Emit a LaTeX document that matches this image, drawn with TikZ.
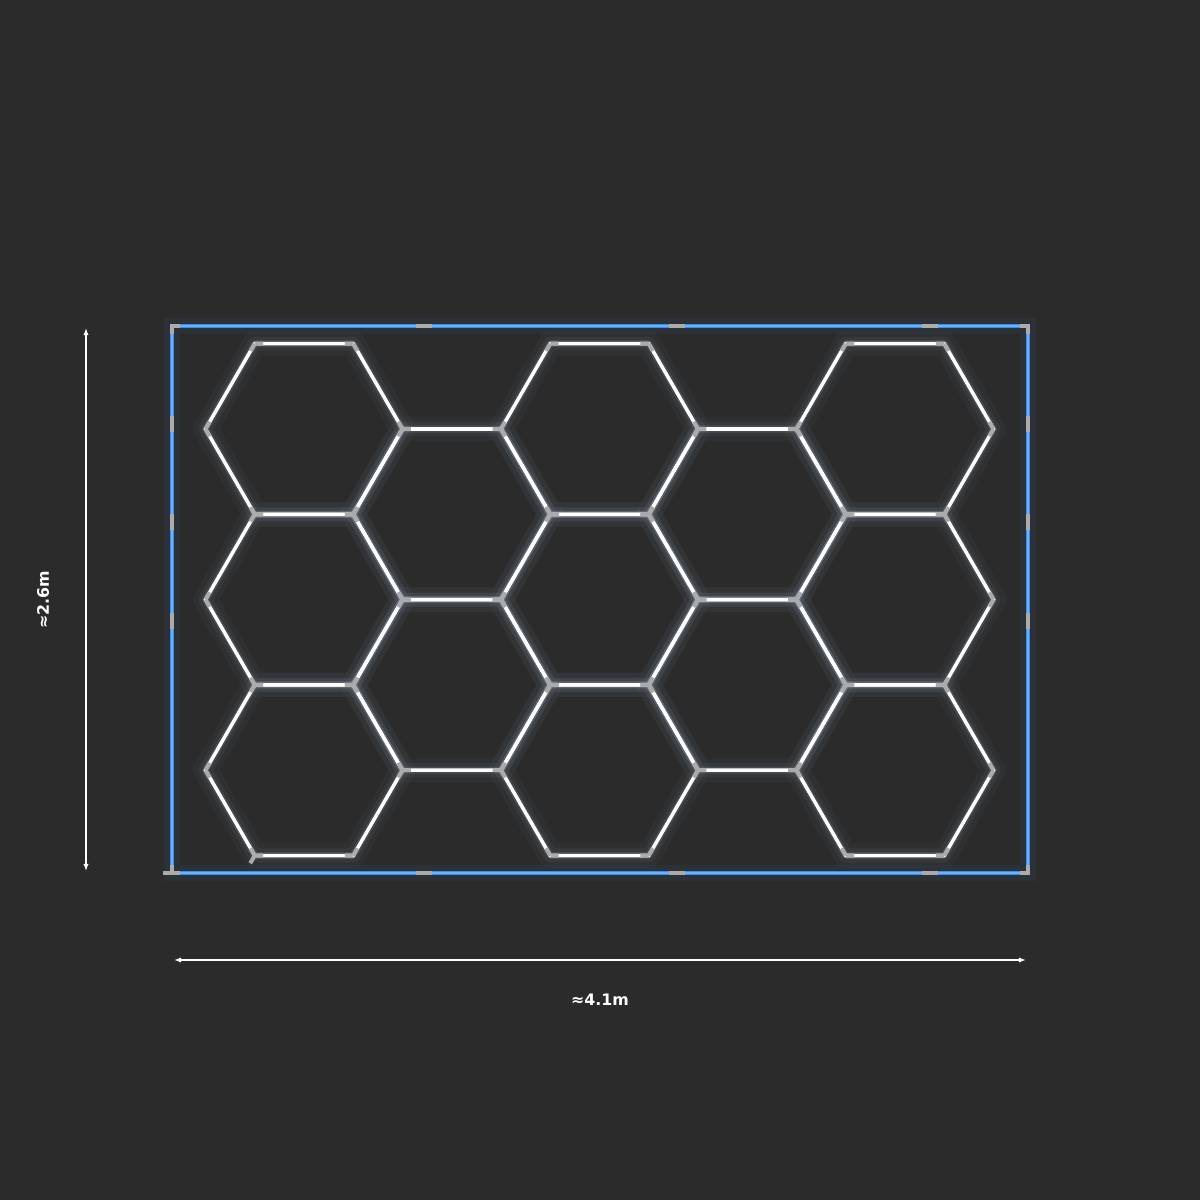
\documentclass[tikz,border=0pt]{standalone}
\usepackage{fontspec}
\setmainfont{DejaVu Sans}
\usepackage{tikz}
\usetikzlibrary{arrows.meta, calc}

\definecolor{bgdark}{HTML}{2B2B2B}
\definecolor{frameblue}{HTML}{3A8EE8}
\definecolor{frameblueLight}{HTML}{6AB2FF}
\definecolor{glowcol}{HTML}{A8BCD8}
\definecolor{bargray}{HTML}{ABABAB}

\begin{document}
\begin{tikzpicture}[x=0.02cm, y=-0.02cm,
    hexglow/.style={glowcol, line width=14pt, opacity=0.035, line cap=round, line join=round},
    hexhalo/.style={glowcol, line width=8pt, opacity=0.06, line cap=round, line join=round},
    hexhalo2/.style={glowcol, line width=4pt, opacity=0.15, line cap=round, line join=round},
    hexedge/.style={white, line width=2pt},
    joint/.style={bargray, line width=2.3pt},
    frame/.style={frameblue, line width=2.4pt},
    frameglow/.style={frameblue, line width=9pt, opacity=0.07},
    dim/.style={white, line width=1pt, {Latex[length=4pt,width=3pt]}-{Latex[length=4pt,width=3pt]}},
    dimlabel/.style={white, font=\bfseries\fontsize{9}{11}\selectfont}]

    % background
    \fill[bgdark] (0,0) rectangle (1200,1200);
    \useasboundingbox (0,0) rectangle (1200,1200);

    \def\hexR{98.5}
    \def\hexcenters{304/429, 304/599.6, 304/770.2,
        451.75/514.3, 451.75/684.9,
        599.5/429, 599.5/599.6, 599.5/770.2,
        747.25/514.3, 747.25/684.9,
        895/429, 895/599.6, 895/770.2}

    % frame corners
    \coordinate (fTL) at (172,326);
    \coordinate (fTR) at (1028,326);
    \coordinate (fBR) at (1028,873);
    \coordinate (fBL) at (172,873);

    % glow
    \draw[frameglow] (fTL) rectangle (fBR);
    \foreach \cx/\cy in \hexcenters {
        \draw[hexglow] ([shift={(\cx,\cy)}]0:\hexR) \foreach \a in {60,120,...,300} { -- ([shift={(\cx,\cy)}]\a:\hexR) } -- cycle;
        \draw[hexhalo] ([shift={(\cx,\cy)}]0:\hexR) \foreach \a in {60,120,...,300} { -- ([shift={(\cx,\cy)}]\a:\hexR) } -- cycle;
        \draw[hexhalo2] ([shift={(\cx,\cy)}]0:\hexR) \foreach \a in {60,120,...,300} { -- ([shift={(\cx,\cy)}]\a:\hexR) } -- cycle;
    }

    % frame
    \draw[frame] (fTL) rectangle (fBR);
    \draw[frameblueLight, line width=0.8pt] (fTL) rectangle (fBR);

    % frame joints
    \foreach \px in {424, 677, 930} {
        \draw[joint] (\px-8,326) -- (\px+8,326);
        \draw[joint] (\px-8,873) -- (\px+8,873);
    }
    \foreach \py in {424, 522, 621} {
        \draw[joint] (172,\py-8) -- (172,\py+8);
        \draw[joint] (1028,\py-8) -- (1028,\py+8);
    }
    \draw[joint] (180,326) -- (fTL) -- (172,334);
    \draw[joint] (1020,326) -- (fTR) -- (1028,334);
    \draw[joint] (1020,873) -- (fBR) -- (1028,865);
    \draw[joint] (180,873) -- (163,873);
    \draw[joint] (fBL) -- (172,865);

    % hexagons
    \foreach \cx/\cy in \hexcenters {
        \draw[hexedge] ([shift={(\cx,\cy)}]0:\hexR) \foreach \a in {60,120,...,300} { -- ([shift={(\cx,\cy)}]\a:\hexR) } -- cycle;
    }

    % hexagon joints
    \foreach \cx/\cy in \hexcenters {
        \foreach \a in {0,60,...,300} {
            \coordinate (va) at ([shift={(\cx,\cy)}]\a:\hexR);
            \coordinate (vb) at ([shift={(\cx,\cy)}]\a+60:\hexR);
            \draw[joint] (va) -- ($(va)!0.085!(vb)$);
            \draw[joint] (vb) -- ($(vb)!0.085!(va)$);
        }
    }
    % loose stub
    \coordinate (stub) at ([shift={(304,770.2)}]120:\hexR);
    \draw[joint] (stub) -- ++(120:9);

    % dimensions
    \coordinate (hL) at (174,960);
    \coordinate (hR) at (1026,960);
    \coordinate (vT) at (86,328);
    \coordinate (vB) at (86,871);
    \draw[dim] (hL) -- (hR);
    \draw[dim] (vT) -- (vB);
    \node[dimlabel] (widthlabel) at (600,1000) {≈4.1m};
    \node[dimlabel, rotate=90] (heightlabel) at (43,600) {≈2.6m};
\end{tikzpicture}
\end{document}
